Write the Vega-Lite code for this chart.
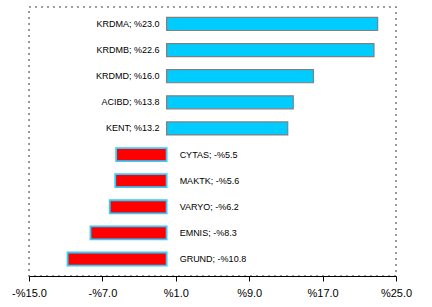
{
  "$schema": "https://vega.github.io/schema/vega-lite/v6.json",
  "width": 367,
  "height": 269,
  "autosize": "none",
  "padding": {"left": 29, "top": 7, "right": 36, "bottom": 31},
  "background": "white",
  "config": {
    "view": {"stroke": "#808080", "strokeDash": [2, 4], "strokeWidth": 1.6},
    "font": "Liberation Sans"
  },
  "data": {
    "values": [
      {"name": "KRDMA", "value": 23.0, "label": "KRDMA; %23.0"},
      {"name": "KRDMB", "value": 22.6, "label": "KRDMB; %22.6"},
      {"name": "KRDMD", "value": 16.0, "label": "KRDMD; %16.0"},
      {"name": "ACIBD", "value": 13.8, "label": "ACIBD; %13.8"},
      {"name": "KENT", "value": 13.2, "label": "KENT; %13.2"},
      {"name": "CYTAS", "value": -5.5, "label": "CYTAS; -%5.5"},
      {"name": "MAKTK", "value": -5.6, "label": "MAKTK; -%5.6"},
      {"name": "VARYO", "value": -6.2, "label": "VARYO; -%6.2"},
      {"name": "EMNIS", "value": -8.3, "label": "EMNIS; -%8.3"},
      {"name": "GRUND", "value": -10.8, "label": "GRUND; -%10.8"}
    ]
  },
  "encoding": {
    "y": {
      "field": "name",
      "type": "nominal",
      "sort": null,
      "scale": {"paddingInner": 0.5, "paddingOuter": 0.4},
      "axis": null
    }
  },
  "layer": [
    {
      "mark": {"type": "bar"},
      "encoding": {
        "x": {
          "field": "value",
          "type": "quantitative",
          "scale": {"domain": [-15, 25], "nice": false, "zero": false},
          "axis": {
            "title": null,
            "values": [-15, -7, 1, 9, 17, 25],
            "labelExpr": "datum.value < 0 ? '-%' + format(abs(datum.value), '.1f') : '%' + format(datum.value, '.1f')",
            "grid": false,
            "domainColor": "black",
            "domainWidth": 1,
            "tickColor": "black",
            "tickSize": 5,
            "labelPadding": 6,
            "labelFontSize": 11,
            "labelColor": "black",
            "labelFont": "Liberation Sans",
            "labelFlush": false
          }
        },
        "x2": {"datum": 0},
        "fill": {"condition": {"test": "datum.value < 0", "value": "#FF0000"}, "value": "#00CCFF"},
        "stroke": {"condition": {"test": "datum.value < 0", "value": "#33CCFF"}, "value": "#808080"},
        "strokeWidth": {"condition": {"test": "datum.value < 0", "value": 1.8}, "value": 1.2}
      }
    },
    {
      "mark": {"type": "rule", "color": "black", "strokeWidth": 1},
      "encoding": {"x": {"datum": 0}}
    },
    {
      "transform": [{"filter": "datum.value >= 0"}],
      "mark": {"type": "text", "align": "right", "dx": -7, "fontSize": 9, "color": "black"},
      "encoding": {
        "x": {"datum": 0},
        "text": {"field": "label"}
      }
    },
    {
      "transform": [{"filter": "datum.value < 0"}],
      "mark": {"type": "text", "align": "left", "dx": 13, "fontSize": 9, "color": "black"},
      "encoding": {
        "x": {"datum": 0},
        "text": {"field": "label"}
      }
    }
  ]
}
